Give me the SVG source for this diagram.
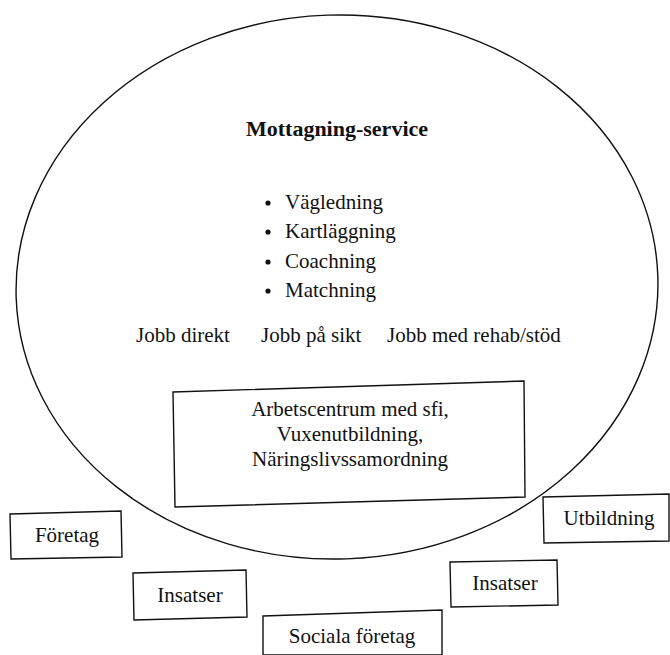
<svg xmlns="http://www.w3.org/2000/svg" width="670" height="655" viewBox="0 0 670 655">
<style>
text{font-family:"Liberation Serif","Times New Roman",serif;fill:#111;font-size:21px}
.c{text-anchor:middle}
.t{font-weight:bold;font-size:22px}
.b{fill:none;stroke:#111;stroke-width:1.4}
.dot{fill:#111}
</style>
<rect width="670" height="655" fill="#fff"/>
<g id="mottagning">
<ellipse class="b" cx="337" cy="287" rx="321" ry="272" transform="rotate(-2 337 287)"/>
<text class="t c" x="337" y="136">Mottagning-service</text>
<circle class="dot" cx="268" cy="203" r="2.6"/>
<circle class="dot" cx="268" cy="232" r="2.6"/>
<circle class="dot" cx="268" cy="262" r="2.6"/>
<circle class="dot" cx="268" cy="291" r="2.6"/>
<text x="285" y="209">Vägledning</text>
<text x="285" y="238">Kartläggning</text>
<text x="285" y="268">Coachning</text>
<text x="285" y="297">Matchning</text>
<text x="136" y="342">Jobb direkt</text>
<text x="261" y="342">Jobb på sikt</text>
<text x="387" y="342">Jobb med rehab/stöd</text>
</g>
<g id="arbetscentrum">
<polygon class="b" points="173,392 524,381 525,497 175,507"/>
<text class="c" x="350" y="416">Arbetscentrum med sfi,</text>
<text class="c" x="350" y="441">Vuxenutbildning,</text>
<text class="c" x="350" y="466">Näringslivssamordning</text>
</g>
<g id="foretag">
<polygon class="b" points="10,514 121,511 122,557 11,559"/>
<text class="c" x="67" y="542">Företag</text>
</g>
<g id="insatser1">
<polygon class="b" points="133,573 246,570 247,617 134,620"/>
<text class="c" x="190" y="602">Insatser</text>
</g>
<g id="sociala">
<polygon class="b" points="263,616 442,610 442,655 263,655"/>
<text class="c" x="352" y="643">Sociala företag</text>
</g>
<g id="insatser2">
<polygon class="b" points="450,562 557,560 558,605 451,607"/>
<text class="c" x="505" y="590">Insatser</text>
</g>
<g id="utbildning">
<polygon class="b" points="543,497 669,494 669,541 544,543"/>
<text class="c" x="609" y="525">Utbildning</text>
</g>
<g id="connectors"/>
</svg>
